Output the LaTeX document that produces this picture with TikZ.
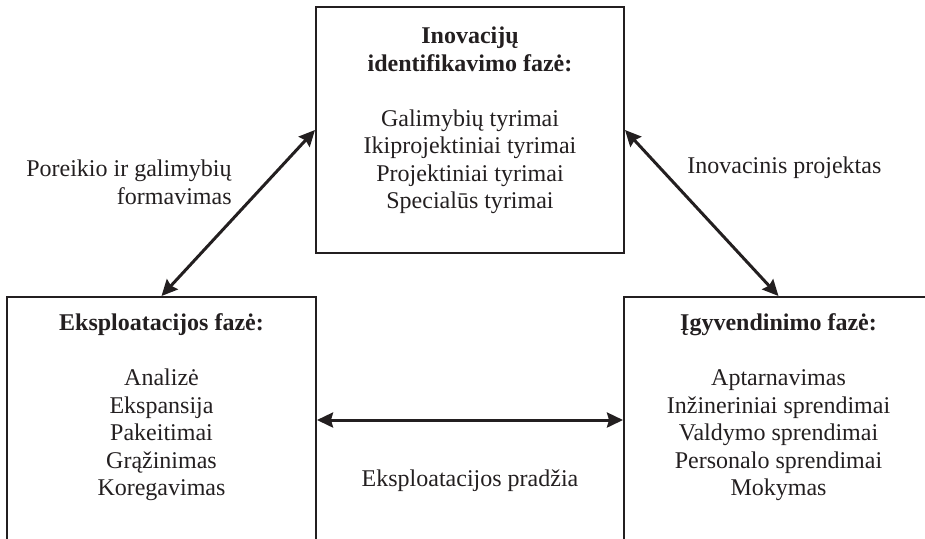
\documentclass[tikz,border=0pt]{standalone}
\usepackage{fontspec}
\setmainfont{Liberation Serif}
\usetikzlibrary{arrows.meta}
\definecolor{ink}{RGB}{35,31,32}
\begin{document}
\begin{tikzpicture}[x=0.5pt,y=-0.5pt,
  phasebox/.style={draw=ink, line width=1pt, minimum width=154pt, minimum height=123pt, inner sep=0pt},
  boxtext/.style={text=ink, align=center, inner sep=0pt, anchor=north, font=\fontsize{12pt}{13.75pt}\selectfont},
  lbl/.style={text=ink, inner sep=0pt, font=\fontsize{12pt}{13.75pt}\selectfont},
  dblarrow/.style={draw=ink, line width=1.5pt, {Stealth[length=8pt,width=7.5pt,inset=1pt]}-{Stealth[length=8pt,width=7.5pt,inset=1pt]}}]
\useasboundingbox (0,0) rectangle (925,538);
\clip (0,0) rectangle (925,538);

\node[phasebox] (top) at (470,130) {};
\node[phasebox, minimum width=154.5pt] (left) at (161.5,420) {};
\node[phasebox, minimum width=154.5pt] (right) at (778.5,420) {};

\node[boxtext] (toptext) at (470,26.5) {\textbf{Inovacijų}\\\textbf{identifikavimo fazė:}\\[13.75pt]Galimybių tyrimai\\Ikiprojektiniai tyrimai\\Projektiniai tyrimai\\Specialūs tyrimai};
\node[boxtext] (lefttext) at (161.5,313.5) {\textbf{Eksploatacijos fazė:}\\[13.75pt]Analizė\\Ekspansija\\Pakeitimai\\Grąžinimas\\Koregavimas};
\node[boxtext] (righttext) at (778.5,313.5) {\textbf{Įgyvendinimo fazė:}\\[13.75pt]Aptarnavimas\\Inžineriniai sprendimai\\Valdymo sprendimai\\Personalo sprendimai\\Mokymas};

\draw[dblarrow] (left.north) -- (top.west);
\draw[dblarrow] (top.east) -- (right.north);
\draw[dblarrow] (left.east) -- (right.west);

\node[lbl, align=right, anchor=north east] (lblleft) at (232,159.5) {Poreikio ir galimybių\\formavimas};
\node[lbl, anchor=base west] (lblright) at (687,173) {Inovacinis projektas};
\node[lbl, anchor=base] (lblbottom) at (470,486) {Eksploatacijos pradžia};
\end{tikzpicture}
\end{document}
